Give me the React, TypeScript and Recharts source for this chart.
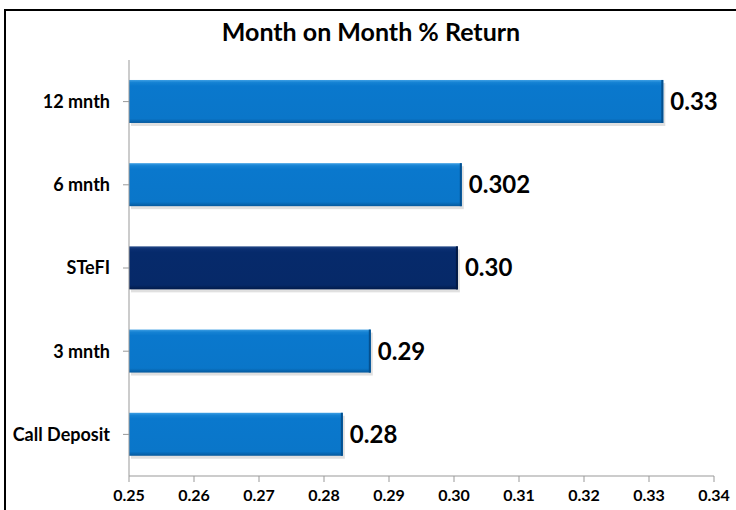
import React from 'react';
import { BarChart, Bar, XAxis, YAxis, Cell, LabelList } from 'recharts';

// values
const categories = ['12 mnth', '6 mnth', 'STeFI', '3 mnth', 'Call Deposit'];
const returns = [0.3322, 0.3012, 0.3006, 0.2872, 0.2829];
const valueLabels = ['0.33', '0.302', '0.30', '0.29', '0.28'];
const xTicks = [0.25, 0.26, 0.27, 0.28, 0.29, 0.3, 0.31, 0.32, 0.33, 0.34];
const highlight = 'STeFI';

const data = categories.map((name, i) => ({
  name,
  value: returns[i],
  label: valueLabels[i],
}));

const FONT = 'Lato, "Open Sans", sans-serif';

const BevelBar = (props: any) => {
  const { x, y, width, height, payload } = props;
  if (!width || width <= 0) return null;
  const dark = payload.name === highlight;
  const fillId = dark ? 'gradDark' : 'gradBlue';
  const edge = dark ? '#021a45' : '#04508f';
  return (
    <g>
      <rect x={x + 2} y={y + 3} width={width} height={height} fill="#000" opacity={0.12} />
      <rect x={x} y={y} width={width} height={height} fill={`url(#${fillId})`} />
      <rect x={x + width - 2} y={y} width={2} height={height} fill={edge} />
    </g>
  );
};

const App: React.FC = () => {
  return (
    <div style={{ position: 'absolute', left: 0, top: 0, width: 736, height: 510, overflow: 'hidden', background: '#fff' }}>
      <div
        style={{
          position: 'absolute',
          left: 4,
          top: 9,
          width: 800,
          height: 600,
          border: '2px solid #000',
          boxSizing: 'border-box',
        }}
      />
      <div
        style={{
          position: 'absolute',
          top: 16,
          left: 0,
          width: 742,
          textAlign: 'center',
          fontFamily: FONT,
          fontWeight: 700,
          fontSize: 25,
          color: '#000',
        }}
      >
        Month on Month % Return
      </div>
      <div style={{ position: 'absolute', left: 0, top: 0 }}>
        <BarChart
          width={736}
          height={510}
          data={data}
          layout="vertical"
          margin={{ top: 60, right: 22, left: 0, bottom: 0 }}
          barCategoryGap="24%"
        >
          <defs>
            <linearGradient id="gradBlue" x1="0" y1="0" x2="0" y2="1">
              <stop offset="0" stopColor="#3e9fe4" />
              <stop offset="0.06" stopColor="#1582d3" />
              <stop offset="0.14" stopColor="#0a78cd" />
              <stop offset="0.9" stopColor="#0a76c9" />
              <stop offset="1" stopColor="#05599d" />
            </linearGradient>
            <linearGradient id="gradDark" x1="0" y1="0" x2="0" y2="1">
              <stop offset="0" stopColor="#254a88" />
              <stop offset="0.06" stopColor="#0b2f72" />
              <stop offset="0.14" stopColor="#062a6b" />
              <stop offset="0.9" stopColor="#062968" />
              <stop offset="1" stopColor="#021b4a" />
            </linearGradient>
          </defs>
          <XAxis
            type="number"
            domain={[0.25, 0.34]}
            ticks={xTicks}
            allowDataOverflow
            height={34}
            tickSize={6}
            tickMargin={8}
            tickFormatter={(v: number) => v.toFixed(2)}
            axisLine={{ stroke: '#999' }}
            tickLine={{ stroke: '#999' }}
            tick={{ fill: '#000', fontFamily: FONT, fontWeight: 700, fontSize: 16 }}
          />
          <YAxis
            type="category"
            dataKey="name"
            width={129}
            tickSize={6}
            tickMargin={13}
            axisLine={{ stroke: '#999' }}
            tickLine={{ stroke: '#999' }}
            tick={{ fill: '#000', fontFamily: FONT, fontWeight: 700, fontSize: 18 }}
          />
          <Bar dataKey="value" isAnimationActive={false} shape={<BevelBar />}>
            {data.map((d) => (
              <Cell key={d.name} fill={d.name === highlight ? '#062a6b' : '#0a78cd'} />
            ))}
            <LabelList
              dataKey="label"
              position="right"
              offset={7}
              style={{ fill: '#000', fontFamily: FONT, fontWeight: 700, fontSize: 24 }}
            />
          </Bar>
        </BarChart>
      </div>
    </div>
  );
};

export default App;
